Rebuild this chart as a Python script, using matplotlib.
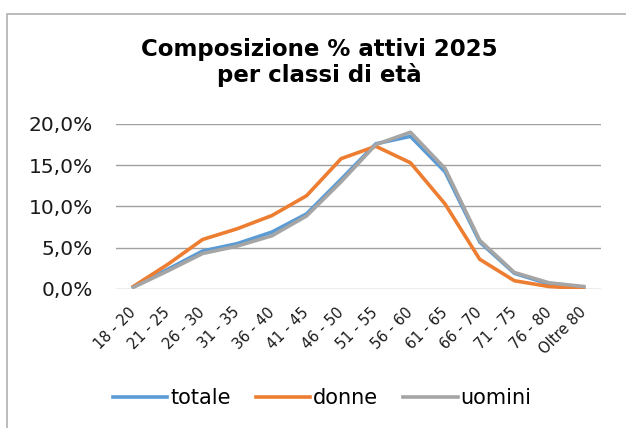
import matplotlib
matplotlib.use("Agg")
from matplotlib import pyplot as plt
from matplotlib.lines import Line2D
from matplotlib.ticker import FuncFormatter

classi = ["18 - 20", "21 - 25", "26 - 30", "31 - 35", "36 - 40", "41 - 45", "46 - 50",
          "51 - 55", "56 - 60", "61 - 65", "66 - 70", "71 - 75", "76 - 80", "Oltre 80"]
totale = [0.25, 2.4, 4.6, 5.5, 6.9, 9.1, 13.3, 17.6, 18.5, 14.2, 5.7, 1.9, 0.6, 0.2]
donne = [0.3, 3.0, 6.0, 7.3, 8.9, 11.3, 15.8, 17.3, 15.3, 10.3, 3.6, 1.0, 0.3, 0.05]
uomini = [0.2, 2.2, 4.3, 5.2, 6.45, 8.85, 13.0, 17.5, 19.0, 14.6, 5.9, 2.0, 0.75, 0.3]

fig = plt.figure(figsize=(6.26, 4.28), dpi=100)
ax = fig.add_axes([0.1853, 0.3248, 0.7747, 0.3855])

x = range(len(classi))
ax.plot(x, [v / 100 for v in totale], color="#5B9BD5", lw=2.6, label="totale")
ax.plot(x, [v / 100 for v in donne], color="#ED7D31", lw=2.6, label="donne")
ax.plot(x, [v / 100 for v in uomini], color="#A5A5A5", lw=2.6, label="uomini")

ax.set_xlim(-0.5, len(classi) - 0.5)
ax.set_ylim(0, 0.2)
ax.set_yticks([0, 0.05, 0.10, 0.15, 0.20])
ax.yaxis.set_major_formatter(FuncFormatter(lambda v, p: f"{v * 100:.1f}%".replace(".", ",")))
ax.grid(axis="y", color="#A0A0A0", lw=1)
ax.set_axisbelow(True)
for s in ax.spines.values():
    s.set_visible(False)
ax.tick_params(axis="y", length=0, labelsize=14.5, pad=16.5, colors="#1a1a1a")
ax.tick_params(axis="x", length=0, labelsize=10.5, pad=15, colors="#1a1a1a")
ax.set_xticks(list(x))
ax.set_xticklabels(classi, rotation=45, ha="right", va="center", rotation_mode="anchor")

fig.text(0.51, 0.853, "Composizione % attivi 2025\nper classi di età", ha="center", va="center",
         fontsize=16.5, fontweight="bold", linespacing=1.1)

ax.legend(loc="center", bbox_to_anchor=(0.515, 0.07), bbox_transform=fig.transFigure, ncol=3,
          frameon=False, fontsize=15, handlelength=2.6, handletextpad=0.15, columnspacing=1.2,
          borderpad=0)

# bordo del grafico (solo sinistra e sopra visibili)
fig.add_artist(Line2D([0.0112, 0.0112, 1.0], [0.0, 0.967, 0.967], transform=fig.transFigure,
                      color="#B0B0B0", lw=1.2))

fig.savefig("out.png", dpi=100)
